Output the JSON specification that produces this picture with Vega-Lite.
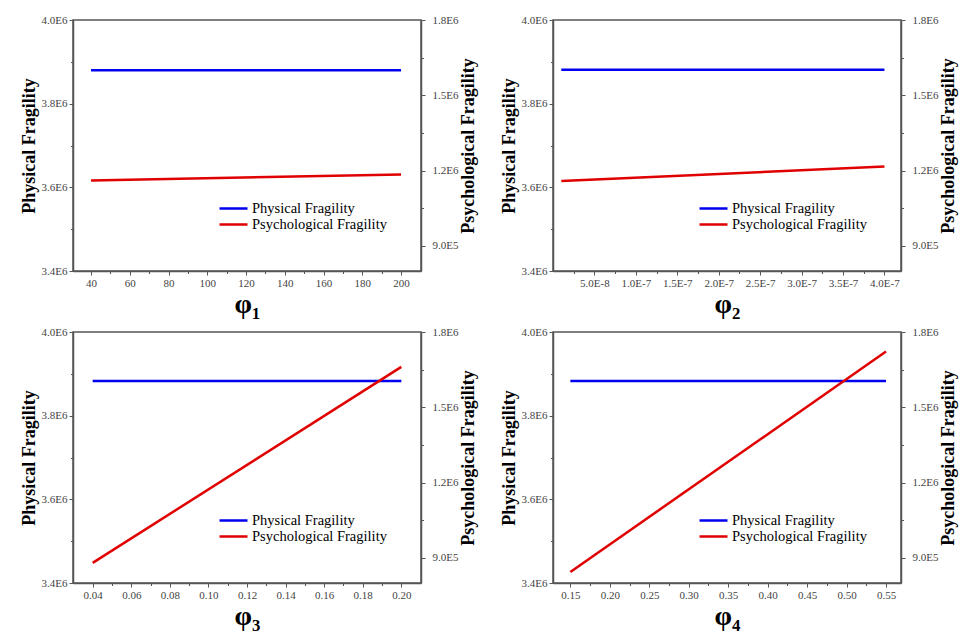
{
  "$schema": "https://vega.github.io/schema/vega-lite/v6.json",
  "background": "white",
  "padding": {"left": 19, "top": 13, "right": 5, "bottom": 5},
  "config": {
    "font": "Liberation Serif",
    "view": {"stroke": "#555555", "strokeWidth": 1.5},
    "axis": {
      "labelFont": "Liberation Serif",
      "labelFontSize": 11,
      "labelColor": "#444444",
      "domainColor": "#555555",
      "domainWidth": 1.5,
      "tickColor": "#555555",
      "tickSize": 4,
      "grid": false,
      "titleFont": "Liberation Serif",
      "titleColor": "#000000"
    },
    "legend": {
      "orient": "none",
      "legendX": 146,
      "legendY": 180,
      "direction": "vertical",
      "symbolType": "M-2,0H2",
      "symbolSize": 196,
      "symbolOffset": 6,
      "symbolStrokeWidth": 2.5,
      "labelFont": "Liberation Serif",
      "labelFontSize": 14.5,
      "labelColor": "#000000",
      "labelOffset": 10,
      "rowPadding": 1,
      "padding": 0,
      "title": null
    }
  },
  "datasets": {
    "p1": [
      {"phi": 40, "s": "Physical Fragility", "v": 3880000},
      {"phi": 200, "s": "Physical Fragility", "v": 3880000},
      {"phi": 40, "s": "Psychological Fragility", "v": 1161000},
      {"phi": 200, "s": "Psychological Fragility", "v": 1184000}
    ],
    "p2": [
      {"phi": 1e-8, "s": "Physical Fragility", "v": 3881000},
      {"phi": 4e-7, "s": "Physical Fragility", "v": 3881000},
      {"phi": 1e-8, "s": "Psychological Fragility", "v": 1159000},
      {"phi": 4e-7, "s": "Psychological Fragility", "v": 1216000}
    ],
    "p3": [
      {"phi": 0.04, "s": "Physical Fragility", "v": 3883000},
      {"phi": 0.2, "s": "Physical Fragility", "v": 3883000},
      {"phi": 0.04, "s": "Psychological Fragility", "v": 880000},
      {"phi": 0.2, "s": "Psychological Fragility", "v": 1661000}
    ],
    "p4": [
      {"phi": 0.15, "s": "Physical Fragility", "v": 3883000},
      {"phi": 0.55, "s": "Physical Fragility", "v": 3883000},
      {"phi": 0.15, "s": "Psychological Fragility", "v": 844000},
      {"phi": 0.55, "s": "Psychological Fragility", "v": 1722000}
    ]
  },
  "columns": 2,
  "spacing": {"row": 61, "column": 132},
  "bounds": "flush",
  "resolve": {"scale": {"color": "independent"}},
  "concat": [
    {
      "width": 348, "height": 251,
      "data": {"name": "p1"},
      "encoding": {
        "x": {"field": "phi", "type": "quantitative", "scale": {"domain": [30.7, 210.3], "nice": false, "zero": false},
          "axis": {"values": [40, 50, 60, 70, 80, 90, 100, 110, 120, 130, 140, 150, 160, 170, 180, 190, 200], "labelExpr": "round(datum.value/10)%2==0 ? format(datum.value, 'd') : ''", "tickSize": {"condition": {"test": "round(datum.value/10)%2==0", "value": 4}, "value": 2.5}, "title": "φ₁", "titleFontSize": 28, "titlePadding": 2}},
        "color": {"field": "s", "type": "nominal", "scale": {"domain": ["Physical Fragility", "Psychological Fragility"], "range": ["#0000ee", "#e00000"]}}
      },
      "layer": [
        {
          "transform": [{"filter": "datum.s == 'Physical Fragility'"}],
          "mark": {"type": "line", "strokeWidth": 2.5},
          "encoding": {
            "y": {"field": "v", "type": "quantitative", "scale": {"domain": [3400000, 4000000], "nice": false, "zero": false},
              "axis": {"orient": "left", "values": [3400000, 3500000, 3600000, 3700000, 3800000, 3900000, 4000000], "labelExpr": "round(datum.value/1e5)%2==0 ? replace(format(datum.value, '.1e'), 'e+', 'E') : ''", "tickSize": {"condition": {"test": "round(datum.value/1e5)%2==0", "value": 4}, "value": 2.5}, "title": "Physical Fragility", "titleFontSize": 18, "titleFontWeight": "bold", "titlePadding": 3}}
          }
        },
        {
          "transform": [{"filter": "datum.s == 'Psychological Fragility'"}],
          "mark": {"type": "line", "strokeWidth": 2.5},
          "encoding": {
            "y": {"field": "v", "type": "quantitative", "scale": {"domain": [800000, 1800000], "nice": false, "zero": false},
              "axis": {"orient": "right", "values": [900000, 1050000, 1200000, 1350000, 1500000, 1650000, 1800000], "labelExpr": "round(datum.value/1.5e5)%2==0 ? replace(format(datum.value, '.1e'), 'e+', 'E') : ''", "tickSize": {"condition": {"test": "round(datum.value/1.5e5)%2==0", "value": 4}, "value": 2.5}, "title": "Psychological Fragility", "titleFontSize": 18, "titleFontWeight": "bold", "titleAngle": 270, "titleBaseline": "top", "titlePadding": 2, "labelPadding": 7}}
          }
        }
      ],
      "resolve": {"scale": {"y": "independent"}}
    },
    {
      "width": 348, "height": 251,
      "data": {"name": "p2"},
      "encoding": {
        "x": {"field": "phi", "type": "quantitative", "scale": {"domain": [0, 4.2e-7], "nice": false, "zero": false},
          "axis": {"values": [2.5e-8, 5e-8, 7.5e-8, 1e-7, 1.25e-7, 1.5e-7, 1.75e-7, 2e-7, 2.25e-7, 2.5e-7, 2.75e-7, 3e-7, 3.25e-7, 3.5e-7, 3.75e-7, 4e-7], "labelExpr": "round(datum.value/2.5e-8)%2==0 ? replace(format(datum.value, '.1e'), 'e-', 'E-') : ''", "tickSize": {"condition": {"test": "round(datum.value/2.5e-8)%2==0", "value": 4}, "value": 2.5}, "title": "φ₂", "titleFontSize": 28, "titlePadding": 2}},
        "color": {"field": "s", "type": "nominal", "scale": {"domain": ["Physical Fragility", "Psychological Fragility"], "range": ["#0000ee", "#e00000"]}}
      },
      "layer": [
        {
          "transform": [{"filter": "datum.s == 'Physical Fragility'"}],
          "mark": {"type": "line", "strokeWidth": 2.5},
          "encoding": {
            "y": {"field": "v", "type": "quantitative", "scale": {"domain": [3400000, 4000000], "nice": false, "zero": false},
              "axis": {"orient": "left", "values": [3400000, 3500000, 3600000, 3700000, 3800000, 3900000, 4000000], "labelExpr": "round(datum.value/1e5)%2==0 ? replace(format(datum.value, '.1e'), 'e+', 'E') : ''", "tickSize": {"condition": {"test": "round(datum.value/1e5)%2==0", "value": 4}, "value": 2.5}, "title": "Physical Fragility", "titleFontSize": 18, "titleFontWeight": "bold", "titlePadding": 3}}
          }
        },
        {
          "transform": [{"filter": "datum.s == 'Psychological Fragility'"}],
          "mark": {"type": "line", "strokeWidth": 2.5},
          "encoding": {
            "y": {"field": "v", "type": "quantitative", "scale": {"domain": [800000, 1800000], "nice": false, "zero": false},
              "axis": {"orient": "right", "values": [900000, 1050000, 1200000, 1350000, 1500000, 1650000, 1800000], "labelExpr": "round(datum.value/1.5e5)%2==0 ? replace(format(datum.value, '.1e'), 'e+', 'E') : ''", "tickSize": {"condition": {"test": "round(datum.value/1.5e5)%2==0", "value": 4}, "value": 2.5}, "title": "Psychological Fragility", "titleFontSize": 18, "titleFontWeight": "bold", "titleAngle": 270, "titleBaseline": "top", "titlePadding": 2, "labelPadding": 7}}
          }
        }
      ],
      "resolve": {"scale": {"y": "independent"}}
    },
    {
      "width": 348, "height": 251,
      "data": {"name": "p3"},
      "encoding": {
        "x": {"field": "phi", "type": "quantitative", "scale": {"domain": [0.0298, 0.2102], "nice": false, "zero": false},
          "axis": {"values": [0.04, 0.05, 0.06, 0.07, 0.08, 0.09, 0.1, 0.11, 0.12, 0.13, 0.14, 0.15, 0.16, 0.17, 0.18, 0.19, 0.2], "labelExpr": "round(datum.value/0.01)%2==0 ? format(datum.value, '.2f') : ''", "tickSize": {"condition": {"test": "round(datum.value/0.01)%2==0", "value": 4}, "value": 2.5}, "title": "φ₃", "titleFontSize": 28, "titlePadding": 2}},
        "color": {"field": "s", "type": "nominal", "scale": {"domain": ["Physical Fragility", "Psychological Fragility"], "range": ["#0000ee", "#e00000"]}}
      },
      "layer": [
        {
          "transform": [{"filter": "datum.s == 'Physical Fragility'"}],
          "mark": {"type": "line", "strokeWidth": 2.5},
          "encoding": {
            "y": {"field": "v", "type": "quantitative", "scale": {"domain": [3400000, 4000000], "nice": false, "zero": false},
              "axis": {"orient": "left", "values": [3400000, 3500000, 3600000, 3700000, 3800000, 3900000, 4000000], "labelExpr": "round(datum.value/1e5)%2==0 ? replace(format(datum.value, '.1e'), 'e+', 'E') : ''", "tickSize": {"condition": {"test": "round(datum.value/1e5)%2==0", "value": 4}, "value": 2.5}, "title": "Physical Fragility", "titleFontSize": 18, "titleFontWeight": "bold", "titlePadding": 3}}
          }
        },
        {
          "transform": [{"filter": "datum.s == 'Psychological Fragility'"}],
          "mark": {"type": "line", "strokeWidth": 2.5},
          "encoding": {
            "y": {"field": "v", "type": "quantitative", "scale": {"domain": [800000, 1800000], "nice": false, "zero": false},
              "axis": {"orient": "right", "values": [900000, 1050000, 1200000, 1350000, 1500000, 1650000, 1800000], "labelExpr": "round(datum.value/1.5e5)%2==0 ? replace(format(datum.value, '.1e'), 'e+', 'E') : ''", "tickSize": {"condition": {"test": "round(datum.value/1.5e5)%2==0", "value": 4}, "value": 2.5}, "title": "Psychological Fragility", "titleFontSize": 18, "titleFontWeight": "bold", "titleAngle": 270, "titleBaseline": "top", "titlePadding": 2, "labelPadding": 7}}
          }
        }
      ],
      "resolve": {"scale": {"y": "independent"}}
    },
    {
      "width": 348, "height": 251,
      "data": {"name": "p4"},
      "encoding": {
        "x": {"field": "phi", "type": "quantitative", "scale": {"domain": [0.128, 0.569], "nice": false, "zero": false},
          "axis": {"values": [0.15, 0.175, 0.2, 0.225, 0.25, 0.275, 0.3, 0.325, 0.35, 0.375, 0.4, 0.425, 0.45, 0.475, 0.5, 0.525, 0.55], "labelExpr": "round(datum.value/0.025)%2==0 ? format(datum.value, '.2f') : ''", "tickSize": {"condition": {"test": "round(datum.value/0.025)%2==0", "value": 4}, "value": 2.5}, "title": "φ₄", "titleFontSize": 28, "titlePadding": 2}},
        "color": {"field": "s", "type": "nominal", "scale": {"domain": ["Physical Fragility", "Psychological Fragility"], "range": ["#0000ee", "#e00000"]}}
      },
      "layer": [
        {
          "transform": [{"filter": "datum.s == 'Physical Fragility'"}],
          "mark": {"type": "line", "strokeWidth": 2.5},
          "encoding": {
            "y": {"field": "v", "type": "quantitative", "scale": {"domain": [3400000, 4000000], "nice": false, "zero": false},
              "axis": {"orient": "left", "values": [3400000, 3500000, 3600000, 3700000, 3800000, 3900000, 4000000], "labelExpr": "round(datum.value/1e5)%2==0 ? replace(format(datum.value, '.1e'), 'e+', 'E') : ''", "tickSize": {"condition": {"test": "round(datum.value/1e5)%2==0", "value": 4}, "value": 2.5}, "title": "Physical Fragility", "titleFontSize": 18, "titleFontWeight": "bold", "titlePadding": 3}}
          }
        },
        {
          "transform": [{"filter": "datum.s == 'Psychological Fragility'"}],
          "mark": {"type": "line", "strokeWidth": 2.5},
          "encoding": {
            "y": {"field": "v", "type": "quantitative", "scale": {"domain": [800000, 1800000], "nice": false, "zero": false},
              "axis": {"orient": "right", "values": [900000, 1050000, 1200000, 1350000, 1500000, 1650000, 1800000], "labelExpr": "round(datum.value/1.5e5)%2==0 ? replace(format(datum.value, '.1e'), 'e+', 'E') : ''", "tickSize": {"condition": {"test": "round(datum.value/1.5e5)%2==0", "value": 4}, "value": 2.5}, "title": "Psychological Fragility", "titleFontSize": 18, "titleFontWeight": "bold", "titleAngle": 270, "titleBaseline": "top", "titlePadding": 2, "labelPadding": 7}}
          }
        }
      ],
      "resolve": {"scale": {"y": "independent"}}
    }
  ]
}
